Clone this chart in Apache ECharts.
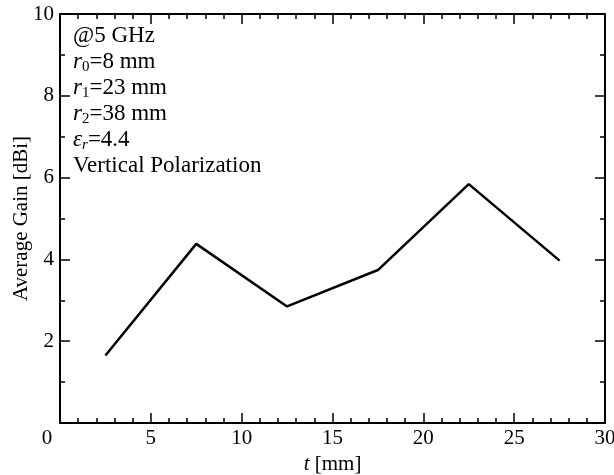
<!DOCTYPE html>
<html>
<head>
<meta charset="utf-8">
<script src="https://cdn.jsdelivr.net/npm/echarts@6/dist/echarts.min.js"></script>
<style>
  html, body { margin: 0; padding: 0; background: #fff; }
  #main { width: 614px; height: 475px; }
</style>
</head>
<body>
<div id="main"></div>
<script>
// thickness t [mm] and average gain [dBi]
var tValues = [2.5, 7.5, 12.5, 17.5, 22.5, 27.5];
var gainValues = [1.65, 4.38, 2.85, 3.74, 5.84, 3.97];

var serif = "Liberation Serif";
var black = "#000";

var chart = echarts.init(document.getElementById("main"));

// axis with ticks pointing into the plot
function tickedAxis(pos, min, max, interval, splits) {
  return {
    type: "value",
    position: pos,
    min: min,
    max: max,
    interval: interval,
    axisLine: { show: true, onZero: false, lineStyle: { color: black, width: 2 } },
    axisTick: { show: true, inside: true, length: 10, lineStyle: { color: black, width: 1.5 } },
    minorTick: { show: true, splitNumber: splits, length: 5, lineStyle: { color: black, width: 1.5 } },
    axisLabel: { show: false },
    splitLine: { show: false }
  };
}

var xBottom = tickedAxis("bottom", 0, 30, 5, 5);
xBottom.name = "{i|t} [mm]";
xBottom.nameLocation = "middle";
xBottom.nameGap = 24;
xBottom.nameTextStyle = {
  fontFamily: serif, fontSize: 21, color: black,
  rich: { i: { fontFamily: serif, fontSize: 21, fontStyle: "italic", color: black } }
};
xBottom.axisLabel = {
  show: true, fontFamily: serif, fontSize: 21, color: black, margin: 5,
  // the corner "0" sits left of the frame, shared by both axes
  formatter: function (v) { return v === 0 ? "{z|0}" : String(v); },
  rich: { z: { fontFamily: serif, fontSize: 21, color: black, padding: [0, 26, 0, 0] } }
};

var yLeft = tickedAxis("left", 0, 10, 2, 2);
yLeft.name = "Average Gain [dBi]";
yLeft.nameLocation = "middle";
yLeft.nameGap = 28;
yLeft.nameMoveOverlap = false;
yLeft.nameTextStyle = { fontFamily: serif, fontSize: 21, color: black };
yLeft.axisLabel = { show: true, fontFamily: serif, fontSize: 21, color: black, margin: 6, showMinLabel: false };

chart.setOption({
  animation: false,
  backgroundColor: "#fff",
  title: {
    left: 73,
    top: 23,
    padding: 0,
    text: [
      "@5 GHz",
      "{i|r}{sub|0}=8 mm",
      "{i|r}{sub|1}=23 mm",
      "{i|r}{sub|2}=38 mm",
      "{i|ε}{isub|r}=4.4",
      "Vertical Polarization"
    ].join("\n"),
    textStyle: {
      fontFamily: serif,
      fontSize: 23,
      fontWeight: "normal",
      color: black,
      lineHeight: 26,
      rich: {
        i: { fontFamily: serif, fontSize: 23, fontStyle: "italic", color: black, lineHeight: 26 },
        sub: { fontFamily: serif, fontSize: 15, color: black, verticalAlign: "bottom", lineHeight: 12 },
        isub: { fontFamily: serif, fontSize: 15, fontStyle: "italic", color: black, verticalAlign: "bottom", lineHeight: 12 }
      }
    }
  },
  grid: { left: 60, right: 9, top: 14, bottom: 52, containLabel: false, outerBoundsMode: "none" },
  xAxis: [xBottom, tickedAxis("top", 0, 30, 5, 5)],
  yAxis: [yLeft, tickedAxis("right", 0, 10, 2, 2)],
  series: [
    {
      type: "line",
      data: tValues.map(function (t, i) { return [t, gainValues[i]]; }),
      showSymbol: false,
      symbol: "none",
      lineStyle: { color: black, width: 2.5 },
      z: 3
    }
  ]
});
</script>
</body>
</html>
